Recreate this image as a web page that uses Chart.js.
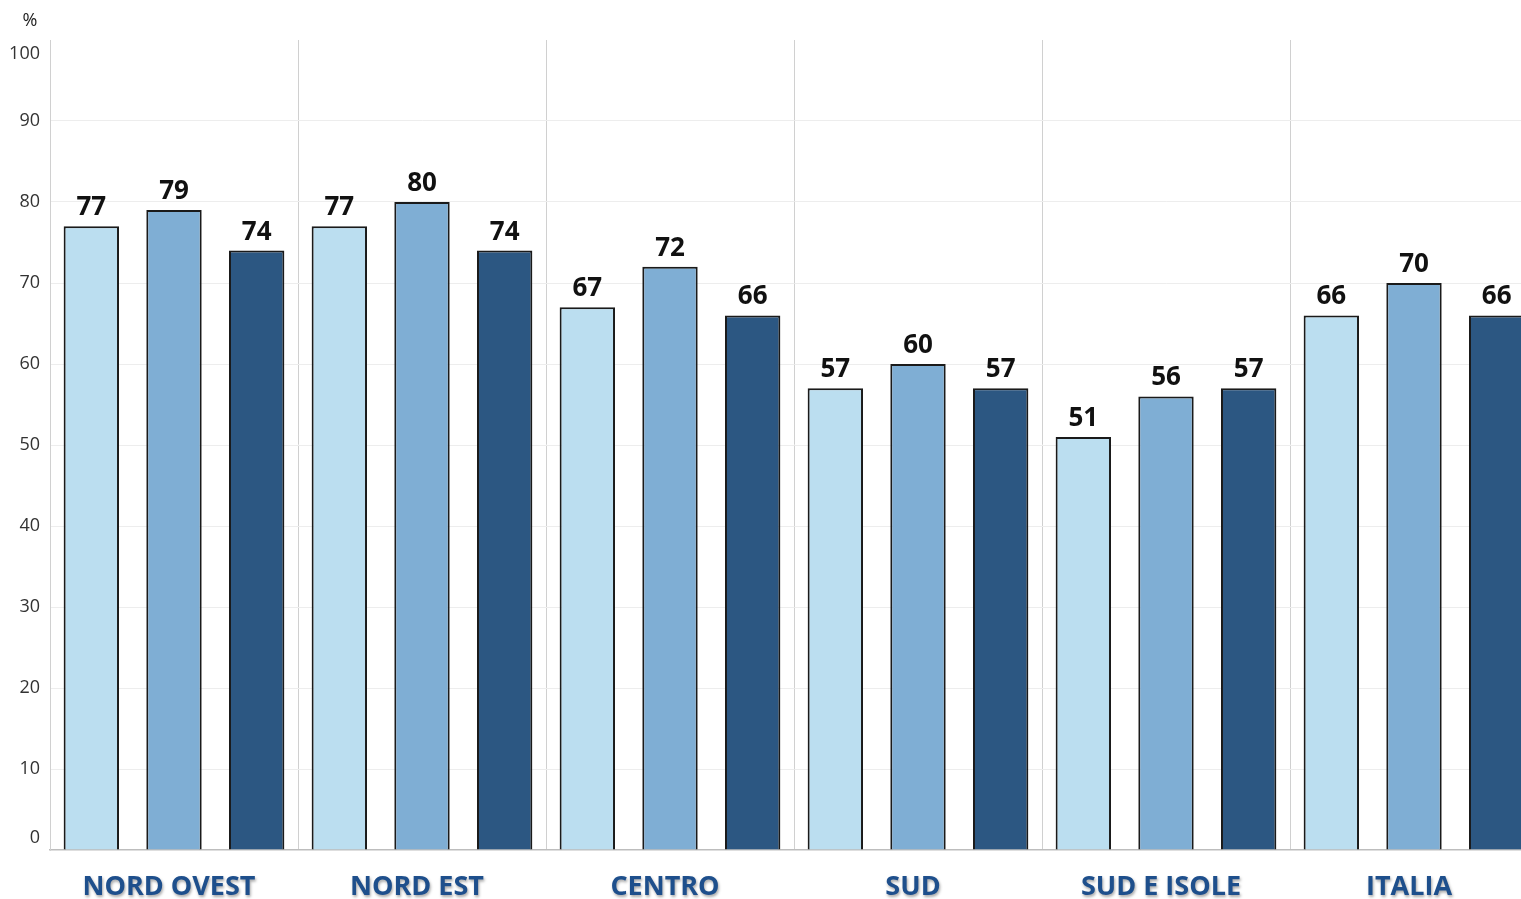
<!DOCTYPE html>
<html>
<head>
<meta charset="utf-8">
<script src="https://cdn.jsdelivr.net/npm/chart.js@4/dist/chart.umd.min.js"></script>
<style>
  html, body { margin: 0; padding: 0; background: #fff; overflow: hidden; }
  #wrap { width: 1540px; height: 899px; }
</style>
</head>
<body>
<div id="wrap"><canvas id="grafico" width="1540" height="899"></canvas></div>
<script>
// dati
const categorie = ['NORD OVEST', 'NORD EST', 'CENTRO', 'SUD', 'SUD E ISOLE', 'ITALIA'];
const serie1 = [77, 77, 67, 57, 51, 66];
const serie2 = [79, 80, 72, 60, 56, 70];
const serie3 = [74, 74, 66, 57, 57, 66];
const valoriAsse = [0, 10, 20, 30, 40, 50, 60, 70, 80, 90, 100];
const colori = ['#BBDEF0', '#7FAED4', '#2C5782'];

// etichette sopra le barre + categorie + asse y + simbolo %
const etichette = {
    id: 'etichette',
    afterDatasetsDraw(chart) {
        const ctx = chart.ctx;
        ctx.save();
        ctx.font = 'bold 26px "Open Sans"';
        ctx.fillStyle = '#111';
        ctx.textAlign = 'center';
        ctx.textBaseline = 'alphabetic';
        chart.data.datasets.forEach((ds, i) => {
            chart.getDatasetMeta(i).data.forEach((bar, j) => {
                ctx.fillText(ds.data[j], bar.x, bar.y - 11);
            });
        });

        // valori asse y (quelli agli estremi restano dentro l'area)
        const y = chart.scales.y;
        ctx.font = '18px "Open Sans"';
        ctx.fillStyle = '#333';
        ctx.textAlign = 'right';
        ctx.textBaseline = 'middle';
        valoriAsse.forEach(v => {
            let py = y.getPixelForValue(v);
            py = Math.min(Math.max(py, y.top + 14), y.bottom - 12);
            ctx.fillText(v, 40, py);
        });

        // nomi delle categorie
        const x = chart.scales.x;
        ctx.font = 'bold 27px "Open Sans"';
        ctx.fillStyle = '#1E4F8C';
        ctx.textAlign = 'center';
        ctx.textBaseline = 'alphabetic';
        ctx.shadowColor = 'rgba(0,0,0,0.35)';
        ctx.shadowBlur = 3;
        ctx.shadowOffsetX = 1;
        ctx.shadowOffsetY = 2;
        categorie.forEach((c, i) => {
            ctx.fillText(c, x.getPixelForValue(i) - 5, 895);
        });
        ctx.shadowColor = 'transparent';

        ctx.font = '18px "Open Sans"';
        ctx.fillStyle = '#222';
        ctx.fillText('%', 30, 26);
        ctx.restore();
    }
};

const ctx = document.getElementById('grafico').getContext('2d');

const grafico = new Chart(ctx, {
    type: 'bar',
    data: {
        labels: categorie,
        datasets: [
            { label: 'Serie 1', data: serie1, backgroundColor: colori[0] },
            { label: 'Serie 2', data: serie2, backgroundColor: colori[1] },
            { label: 'Serie 3', data: serie3, backgroundColor: colori[2] }
        ].map(d => Object.assign(d, { borderColor: '#1a1a1a', borderWidth: 2 }))
    },
    options: {
        responsive: false,
        animation: false,
        layout: { padding: { top: 40, right: 2, bottom: 49, left: 0 } },
        datasets: { bar: { categoryPercentage: 1.0, barPercentage: 0.67 } },
        scales: {
            x: {
                ticks: { display: false },
                grid: { color: '#d0d0d0', lineWidth: 1, drawTicks: false, offset: true },
                border: { color: '#bdbdbd', width: 1.5 }
            },
            y: {
                min: 0,
                max: 100,
                afterFit: function (s) { s.width = 50; },
                ticks: { stepSize: 10, display: false },
                grid: {
                    drawTicks: false,
                    color: function (c) { return c.tick.value === 100 || c.tick.value === 0 ? 'transparent' : '#ededed'; }
                },
                border: { color: '#d0d0d0', width: 1 }
            }
        },
        plugins: {
            legend: { display: false },
            tooltip: { enabled: false }
        }
    },
    plugins: [etichette]
});
</script>
</body>
</html>
